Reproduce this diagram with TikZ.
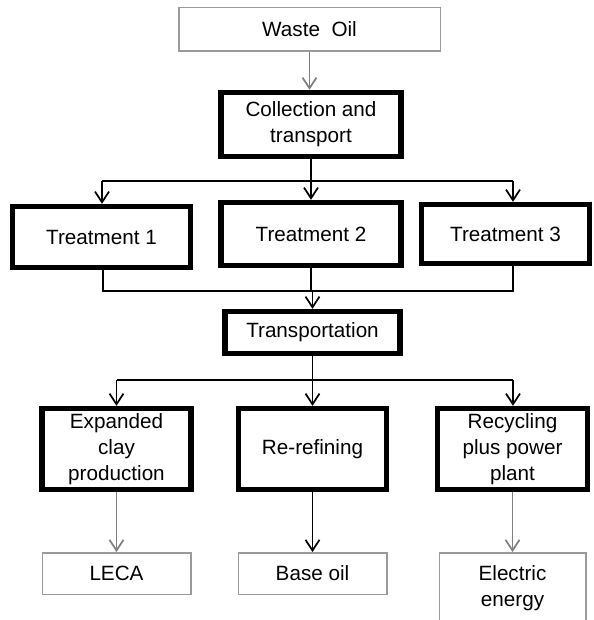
\documentclass[tikz,border=0pt]{standalone}
\usepackage{fontspec}
\setmainfont{Liberation Sans}
\usetikzlibrary{arrows.meta}
\definecolor{boxgray}{HTML}{9A9A9A}
\definecolor{linegray}{HTML}{808080}
\begin{document}
\begin{tikzpicture}[x=0.75pt,y=-0.75pt,
    every node/.style={font=\fontsize{15.5}{19.5}\selectfont,align=center,inner sep=0pt},
    thickbox/.style={draw=black,line width=4pt},
    thinbox/.style={draw=boxgray,line width=1.1pt},
    link/.style={line width=1.3pt},
    arr/.style={link,-{Straight Barb[length=8pt,width=10.5pt]}}]
  \useasboundingbox (0,0) rectangle (593,620);
  % boxes
  \node[thinbox,minimum width=196.1pt,minimum height=32.6pt] (waste) at (309.5,29.5) {Waste~~Oil};
  \node[thickbox,minimum width=135pt,minimum height=48pt] (collect) at (311,124.5) {Collection and\\transport};
  \node[thickbox,minimum width=133.5pt,minimum height=45.75pt] (treat1) at (101.5,237) {Treatment 1};
  \node[thickbox,minimum width=135pt,minimum height=47.25pt] (treat2) at (311,234) {Treatment 2};
  \node[thickbox,minimum width=126pt,minimum height=44.25pt] (treat3) at (505.5,234) {Treatment 3};
  \node[thickbox,minimum width=131.25pt,minimum height=31.5pt] (transp) at (312.5,332.5) {Transportation};
  \node[thickbox,minimum width=111.75pt,minimum height=60.75pt] (clay) at (116.5,449) {Expanded\\clay\\production};
  \node[thickbox,minimum width=111pt,minimum height=60.75pt] (refine) at (312.5,449) {Re-refining};
  \node[thickbox,minimum width=112.5pt,minimum height=60.75pt] (recycle) at (512.5,449) {Recycling\\plus power\\plant};
  \node[thinbox,minimum width=111.4pt,minimum height=31.1pt] (leca) at (116.5,573.5) {LECA};
  \node[thinbox,minimum width=111.4pt,minimum height=31.1pt] (base) at (312.5,573.5) {Base oil};
  \node[thinbox,minimum width=109.9pt,minimum height=53.6pt] (elec) at (512.5,588.5) {Electric\\energy};
  % fork and join points
  \coordinate (fork1l) at (102,181);
  \coordinate (fork1r) at (513,181);
  \coordinate (join2l) at (103,291);
  \coordinate (join2r) at (513,291);
  \coordinate (fork3l) at (116.5,380);
  \coordinate (fork3r) at (513,380);
  % connectors
  \draw[arr,linegray] (waste.south) -- (waste.south |- collect.north);
  \draw[link] (collect.south) -- (collect.south |- fork1l);
  \draw[link] (fork1l) -- (fork1r);
  \draw[arr] (fork1l) -- (fork1l |- treat1.north);
  \draw[arr] (collect.south |- fork1l) -- (treat2.north);
  \draw[arr] (fork1r) -- (fork1r |- treat3.north);
  \draw[link] (join2l |- treat1.south) -- (join2l) -- (join2r) -- (join2r |- treat3.south);
  \draw[link] (treat2.south) -- (treat2.south |- join2l);
  \draw[arr] (transp.north |- join2l) -- (transp.north);
  \draw[link] (transp.south) -- (transp.south |- fork3l);
  \draw[link] (fork3l) -- (fork3r);
  \draw[arr] (fork3l) -- (clay.north);
  \draw[arr] (transp.south |- fork3l) -- (refine.north);
  \draw[arr] (fork3r) -- (fork3r |- recycle.north);
  \draw[arr,linegray] (clay.south) -- (leca.north);
  \draw[arr] (refine.south) -- (base.north);
  \draw[arr,linegray] (recycle.south) -- (elec.north);
\end{tikzpicture}
\end{document}
